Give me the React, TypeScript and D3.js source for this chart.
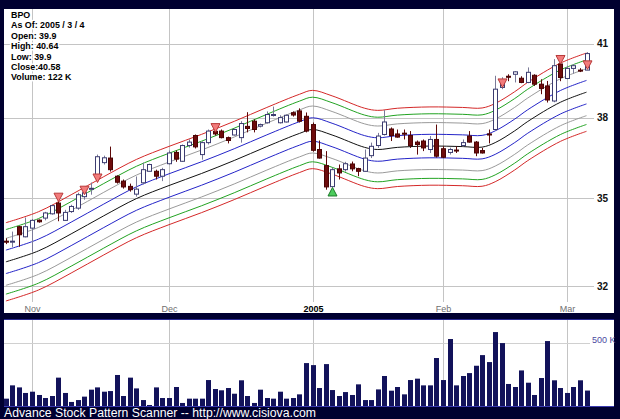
import React from 'react';
import * as d3 from 'd3';

// ---------- DATA ----------
const dates = [
  '2004-10-26','2004-10-27','2004-10-28','2004-10-29',
  '2004-11-01','2004-11-02','2004-11-03','2004-11-04','2004-11-05','2004-11-08','2004-11-09','2004-11-10','2004-11-11','2004-11-12',
  '2004-11-15','2004-11-16','2004-11-17','2004-11-18','2004-11-19','2004-11-22','2004-11-23','2004-11-24','2004-11-26','2004-11-29','2004-11-30',
  '2004-12-01','2004-12-02','2004-12-03','2004-12-06','2004-12-07','2004-12-08','2004-12-09','2004-12-10','2004-12-13','2004-12-14','2004-12-15',
  '2004-12-16','2004-12-17','2004-12-20','2004-12-21','2004-12-22','2004-12-23','2004-12-27','2004-12-28','2004-12-29','2004-12-30','2004-12-31',
  '2005-01-03','2005-01-04','2005-01-05','2005-01-06','2005-01-07','2005-01-10','2005-01-11','2005-01-12','2005-01-13','2005-01-14',
  '2005-01-18','2005-01-19','2005-01-20','2005-01-21','2005-01-24','2005-01-25','2005-01-26','2005-01-27','2005-01-28','2005-01-31',
  '2005-02-01','2005-02-02','2005-02-03','2005-02-04','2005-02-07','2005-02-08','2005-02-09','2005-02-10','2005-02-11','2005-02-14',
  '2005-02-15','2005-02-16','2005-02-17','2005-02-18','2005-02-22','2005-02-23','2005-02-24','2005-02-25','2005-02-28',
  '2005-03-01','2005-03-02','2005-03-03','2005-03-04',
];

const openP = [
  33.50,33.49,34.00,33.65,33.95,34.23,34.30,34.45,34.83,34.22,
  34.53,34.65,35.06,35.34,35.86,36.30,36.47,35.80,35.62,35.43,
  35.15,35.56,35.98,35.98,35.80,36.26,36.68,36.35,36.94,37.32,
  36.60,37.05,37.48,37.49,37.24,37.34,37.24,37.67,37.87,37.68,
  37.81,38.10,37.81,37.84,38.20,38.27,38.06,37.74,36.79,36.19,
  35.42,36.07,36.04,36.25,36.08,35.98,36.56,36.94,37.36,37.57,
  37.38,37.41,37.32,37.07,37.11,36.79,37.17,36.82,36.68,36.77,
  36.94,37.30,37.07,36.75,37.38,37.55,39.20,39.65,39.73,39.57,
  39.40,39.69,39.33,39.26,38.66,40.15,39.56,39.97,39.90,39.90,
];
const highP = [
  33.60,33.83,34.02,34.32,34.27,34.25,34.52,34.77,34.91,34.59,
  34.77,35.20,35.39,35.57,36.60,36.56,36.90,35.83,35.68,35.53,
  35.79,36.30,36.26,36.04,36.11,36.75,36.75,36.98,37.17,37.36,
  37.10,37.55,37.55,37.55,37.28,37.59,37.87,38.22,37.94,37.78,
  38.25,38.44,38.10,38.13,38.25,38.37,38.21,37.82,37.13,36.73,
  36.11,36.23,36.33,36.34,36.11,36.79,37.05,37.42,38.30,37.63,
  37.55,37.55,37.49,37.13,37.17,37.30,37.74,36.91,36.86,36.91,
  37.17,37.49,37.11,36.85,37.55,39.67,39.61,39.73,39.86,39.65,
  40.01,39.73,39.53,39.46,40.35,40.35,40.08,40.15,39.98,40.64,
];
const lowP = [
  33.40,33.30,33.31,33.63,33.14,34.14,34.22,34.42,34.19,34.21,
  34.48,34.59,34.95,35.13,35.83,36.23,35.97,35.53,35.35,35.24,
  35.06,35.50,35.97,35.68,35.62,36.23,36.33,36.33,36.86,36.83,
  36.41,36.98,37.32,37.21,37.02,37.32,37.05,37.44,37.44,37.63,
  37.78,38.05,37.78,37.82,38.05,37.82,37.44,36.71,36.45,35.31,
  35.40,35.68,35.97,35.98,35.80,35.97,36.47,36.85,37.32,37.11,
  37.24,37.17,36.85,36.60,36.73,36.66,36.49,36.47,36.60,36.66,
  36.90,37.05,36.54,36.64,37.02,37.51,39.13,39.45,39.40,39.37,
  39.37,39.26,38.93,38.60,38.61,39.45,39.53,39.76,39.82,39.90,
];
const closeP = [
  33.48,33.50,33.72,34.00,34.22,34.17,34.48,34.74,34.48,34.50,
  34.71,35.13,35.20,35.36,36.52,36.48,36.04,35.58,35.41,35.31,
  35.33,36.04,36.23,35.80,36.04,36.66,36.43,36.94,37.07,36.89,
  37.05,37.49,37.38,37.24,37.13,37.55,37.78,37.59,37.55,37.74,
  38.13,38.13,38.01,38.10,38.11,37.87,37.49,36.76,36.47,35.41,
  36.04,35.92,36.26,36.07,35.98,36.47,36.91,37.30,37.84,37.32,
  37.26,37.38,36.94,36.98,36.85,37.17,36.54,36.50,36.79,36.74,
  37.05,37.07,36.66,36.66,37.34,39.13,39.46,39.62,39.83,39.40,
  39.81,39.33,39.16,38.70,40.08,39.60,39.97,40.08,39.86,40.58,
];
const volumeK = [
  58,163,147,103,113,87,63,79,224,103,
  32,47,74,129,147,113,118,245,79,224,
  139,47,8,147,63,63,150,24,58,58,
  58,205,134,124,142,97,203,79,24,129,
  63,58,113,58,63,92,339,323,142,331,
  126,79,110,87,171,47,47,131,237,121,
  150,92,205,216,163,163,379,205,529,163,
  237,260,318,402,347,584,497,174,150,281,
  184,87,221,513,203,142,103,150,203,122,
];

// centre (black) line of the envelope, read at these trading-day indices
const centerIdx = [0,5,10,15,20,25,30,35,40,45,47,50,55,57,60,65,70,73,75,78,80,85,89];
const centerVal = [32.80,33.17,33.75,34.38,34.99,35.46,35.90,36.38,36.90,37.40,37.55,37.34,36.87,36.79,36.87,36.92,36.90,36.88,37.05,37.50,37.86,38.61,39.01];
// envelope offsets (percent) inner → outer
const bandPct = [1.2, 2.4, 3.3, 4.0];
const bandColors = ['#2424c8', '#9a9a9a', '#22a322', '#d42828'];

// signal markers
const sellIdx = [8, 12, 14, 32, 76, 85, 89];
const sellPrice = [34.88, 35.13, 35.57, 37.45, 39.20, 40.15, 39.93];
const buyIdx = [50];
const buyPrice = [35.39];

const priceTicks = [32, 35, 38, 41];
const monthLabels = ['Nov', 'Dec', '2005', 'Feb', 'Mar'];
const volTicks = [500];
const infoLines = ['BPO', 'As Of: 2005 / 3 / 4', 'Open: 39.9', 'High: 40.64', 'Low: 39.9', 'Close:40.58', 'Volume: 122 K'];
const footer = 'Advance Stock Pattern Scanner -- http://www.cisiova.com';

// ---------- LAYOUT ----------
const W = 620, H = 419;
const BG = '#000030';
const FONT = 'Liberation Sans, Arial, Helvetica, sans-serif';
const P = { left: 4, top: 9, right: 614, gridRight: 594, bottom: 313 };
const V = { top: 319, bottom: 407, base: 406 };

export default function App() {
  const x = d3.scalePoint<string>().domain(dates).range([5.9, 586.5]);
  const y = d3.scaleLog().domain([32, 41]).range([286, 43.5]);
  const v = d3.scaleLinear().domain([0, 500]).range([V.base, 342.7]);

  const monthStarts: number[] = [];
  dates.forEach((d, i) => {
    if (i > 0 && d.slice(5, 7) !== dates[i - 1].slice(5, 7)) monthStarts.push(i);
  });

  const cpts = centerIdx.map((ix, k) => [x(dates[ix]) as number, centerVal[k]] as [number, number]);
  const bandLine = (factor: number) =>
    d3.line<[number, number]>()
      .x(p => p[0])
      .y(p => y(p[1] * factor))
      .curve(d3.curveCatmullRom.alpha(0.5))(cpts) || '';

  const bands: { d: string; color: string }[] = [];
  bandPct.forEach((pct, k) => {
    const f = Math.exp(pct / 100);
    bands.push({ d: bandLine(f), color: bandColors[k] });
    bands.push({ d: bandLine(1 / f), color: bandColors[k] });
  });

  const px = (i: number) => Math.round(x(dates[i]) as number);

  return (
    <div style={{ position: 'absolute', left: 0, top: 0, width: W, height: H }}>
      <svg width={W} height={H} style={{ display: 'block' }} fontFamily={FONT}>
        <defs>
          <clipPath id="plotClip">
            <rect x={P.left} y={P.top} width={P.gridRight - P.left} height={P.bottom - P.top} />
          </clipPath>
        </defs>
        <rect x={0} y={0} width={W} height={H} fill={BG} />
        <rect x={P.left} y={P.top} width={P.right - P.left} height={P.bottom - P.top} fill="#ffffff" />
        <rect x={P.left} y={V.top} width={P.right - P.left} height={V.bottom - V.top} fill="#ffffff" />

        {/* price grid */}
        {monthStarts.map((i, k) => (
          <line key={'vg' + k} x1={px(i) + 0.5} x2={px(i) + 0.5} y1={P.top} y2={302} stroke="#c4c4c4" strokeWidth={1} />
        ))}
        {priceTicks.map(t => (
          <line key={'hg' + t} x1={P.left} x2={P.gridRight} y1={Math.round(y(t)) + 0.5} y2={Math.round(y(t)) + 0.5} stroke="#c4c4c4" strokeWidth={1} />
        ))}
        {priceTicks.map(t => (
          <text key={'pl' + t} x={597} y={y(t)} dy="0.35em" fontSize={10} fontWeight="bold" fill="#111">{t}</text>
        ))}
        {monthStarts.map((i, k) => (
          <text key={'ml' + k} x={px(i) + 0.5} y={309} dy="0.35em" textAnchor="middle"
            fontSize={9} fontWeight={monthLabels[k] === '2005' ? 'bold' : 'normal'}
            fill={monthLabels[k] === '2005' ? '#000' : '#707070'}>{monthLabels[k]}</text>
        ))}

        <g clipPath="url(#plotClip)">
          {bands.map((b, k) => (
            <path key={'b' + k} d={b.d} fill="none" stroke={b.color} strokeWidth={1} />
          ))}
          <path d={bandLine(1)} fill="none" stroke="#111" strokeWidth={1} />

          {dates.map((d, i) => {
            const cx = px(i);
            const o = openP[i], c = closeP[i], h = highP[i], l = lowP[i];
            const up = c >= o;
            const yTop = y(Math.max(o, c));
            const yBot = y(Math.min(o, c));
            const bh = Math.max(1, yBot - yTop);
            return (
              <g key={'c' + i}>
                <line x1={cx + 0.5} x2={cx + 0.5} y1={y(h)} y2={y(l)} stroke={up ? '#7a7a98' : '#5e0808'} strokeWidth={1} />
                <rect x={cx - 1.5} y={yTop} width={4} height={bh}
                  fill={up ? '#ffffff' : '#6e0c0c'} stroke={up ? '#3c3c70' : '#4a0404'} strokeWidth={1} />
              </g>
            );
          })}

          {sellIdx.map((ix, k) => {
            const cx = px(ix) + 0.5;
            const ty = y(sellPrice[k]);
            return <path key={'s' + k} d={`M${cx - 4.5},${ty - 8.5}L${cx + 4.5},${ty - 8.5}L${cx},${ty}Z`}
              fill="#f27b7b" stroke="#b83a3a" strokeWidth={1} />;
          })}
          {buyIdx.map((ix, k) => {
            const cx = px(ix) + 0.5;
            const ty = y(buyPrice[k]);
            return <path key={'u' + k} d={`M${cx - 4.5},${ty + 8.5}L${cx + 4.5},${ty + 8.5}L${cx},${ty}Z`}
              fill="#4ccc5c" stroke="#1d7a2a" strokeWidth={1} />;
          })}
        </g>

        {/* info box */}
        {infoLines.map((t, k) => (
          <text key={'i' + k} x={11} y={17.7 + k * 10.45} fontSize={8.9} fontWeight="bold" fill="#000"
            stroke="#fff" strokeWidth={3} paintOrder="stroke" strokeLinejoin="round">{t}</text>
        ))}

        {/* volume panel */}
        {monthStarts.map((i, k) => (
          <line key={'vv' + k} x1={px(i) + 0.5} x2={px(i) + 0.5} y1={V.top} y2={V.base} stroke="#c4c4c4" strokeWidth={1} />
        ))}
        {volTicks.map(t => (
          <line key={'vt' + t} x1={P.left} x2={590} y1={Math.round(v(t)) + 0.5} y2={Math.round(v(t)) + 0.5} stroke="#d0d0d0" strokeWidth={1} />
        ))}
        {volTicks.map(t => (
          <text key={'vl' + t} x={592} y={v(t) - 3} dy="0.35em" fontSize={9} fill="#4a4aa0">{t} K</text>
        ))}
        {volumeK.map((vk, i) => (
          <rect key={'v' + i} x={px(i) - 2} y={v(vk)} width={5} height={V.base - v(vk)} fill="#12125a" />
        ))}
        <line x1={P.left} x2={P.right} y1={V.base + 0.5} y2={V.base + 0.5} stroke="#3a3ab0" strokeWidth={1} />
        <line x1={P.left} x2={P.right} y1={V.top + 0.5} y2={V.top + 0.5} stroke="#2a2a90" strokeWidth={1} />

        <text x={4} y={417} fontSize={12} textLength={312} lengthAdjust="spacingAndGlyphs" fill="#ffffff">{footer}</text>
      </svg>
    </div>
  );
}
